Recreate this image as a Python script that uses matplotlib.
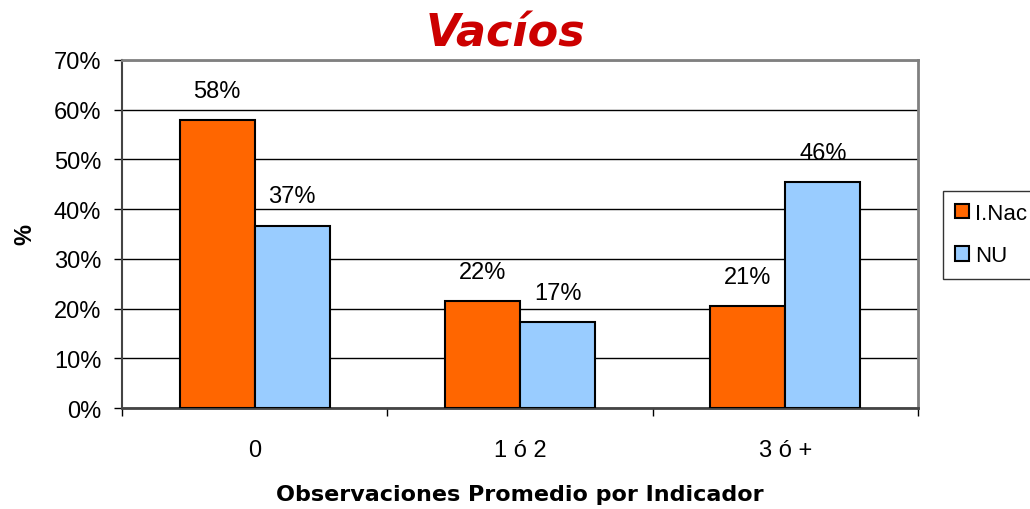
import matplotlib
matplotlib.use("Agg")
import matplotlib.pyplot as plt
import numpy as np
from matplotlib.patches import Patch

categories = ["0", "1 ó 2", "3 ó +"]
series_names = ["I.Nac", "NU"]
inac_values = [58.0, 21.5, 20.6]
nu_values = [36.7, 17.2, 45.5]
inac_labels = ["58%", "22%", "21%"]
nu_labels = ["37%", "17%", "46%"]
y_ticks = [0, 10, 20, 30, 40, 50, 60, 70]
y_tick_labels = ["0%", "10%", "20%", "30%", "40%", "50%", "60%", "70%"]

colors = ["#FF6600", "#99CCFF"]

plt.rcParams['font.family'] = ['Liberation Sans', 'DejaVu Sans']

fig = plt.figure(figsize=(10.3, 5.1), dpi=100)
ax = fig.add_axes([122/1030, 1-409/510, (918-122)/1030, (409-61)/510])

x = np.arange(len(categories))
w = 0.283
b1 = ax.bar(x - w/2, inac_values, w, color=colors[0], edgecolor="black", linewidth=1.5, zorder=3)
b2 = ax.bar(x + w/2, nu_values, w, color=colors[1], edgecolor="black", linewidth=1.5, zorder=3)

for bars, labels in ((b1, inac_labels), (b2, nu_labels)):
    for r, lab in zip(bars, labels):
        ax.annotate(lab, (r.get_x() + r.get_width()/2, r.get_height()),
                    xytext=(0, 13), textcoords="offset points",
                    ha="center", va="bottom", fontsize=17)

ax.set_xlim(-0.5, len(categories) - 0.5)
ax.set_ylim(0, 70)
ax.set_yticks(y_ticks)
ax.set_yticklabels(y_tick_labels, fontsize=17)
ax.yaxis.grid(True, color="black", linewidth=1, zorder=0)
ax.set_axisbelow(True)

ax.set_xticks(x)
ax.set_xticklabels(categories, fontsize=17)
ax.set_xticks(np.arange(len(categories) + 1) - 0.5, minor=True)
ax.tick_params(axis="x", which="major", length=0, pad=22)
ax.tick_params(axis="x", which="minor", length=6, width=1, direction="out", color="black")
ax.tick_params(axis="y", length=6, width=1, direction="out", pad=9)

for s in ("top", "right"):
    ax.spines[s].set_color("#808080")
    ax.spines[s].set_linewidth(2)
ax.spines["left"].set_color("#444444")
ax.spines["bottom"].set_color("#444444")
ax.spines["left"].set_linewidth(1.5)
ax.spines["bottom"].set_linewidth(2)

fig.text(25/1030, 1-235/510, "%", rotation=90, fontsize=17, fontweight="bold",
         ha="center", va="center")
fig.text(520/1030, 1-495/510, "Observaciones Promedio por Indicador", fontsize=16,
         fontweight="bold", ha="center", va="center", family=["DejaVu Sans"])
fig.text(505/1030, 1-34/510, "Vacíos", fontsize=32, fontweight="bold", style="italic",
         color="#CC0000", ha="center", va="center", family=["DejaVu Sans"])

handles = [Patch(facecolor=c, edgecolor="black", linewidth=1.5) for c in colors]
leg = fig.legend(handles, series_names, loc="upper left",
                 bbox_to_anchor=(943/1030, 1-192/510), bbox_transform=fig.transFigure,
                 fontsize=16, frameon=True, fancybox=False, edgecolor="black",
                 handlelength=0.6, handleheight=0.6, handletextpad=0.3,
                 borderpad=0.55, labelspacing=0.95, borderaxespad=0)
leg.get_frame().set_linewidth(1)

fig.savefig("out.png", dpi=100)
